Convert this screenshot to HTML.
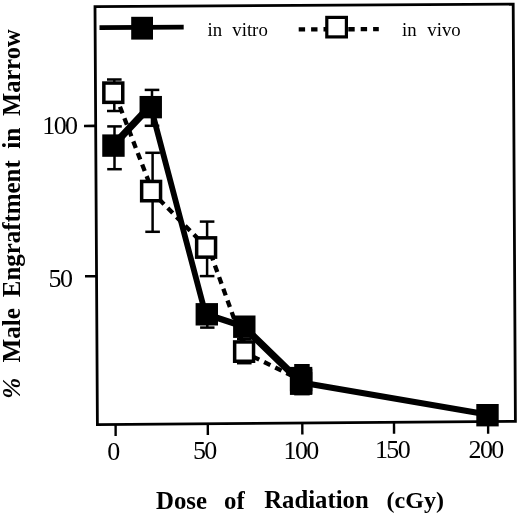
<!DOCTYPE html>
<html><head><meta charset="utf-8"><title>Chart</title>
<style>html,body{margin:0;padding:0;background:#fff}svg{display:block}text{font-family:"Liberation Serif",serif;fill:#000}</style></head>
<body>
<svg width="520" height="515" viewBox="0 0 520 515">
<rect width="520" height="515" fill="#fff"/>
<path d="M95.0 6.6 L513.2 4.2 L515.4 421.3 L97.4 424.7 Z" fill="none" stroke="#000" stroke-width="2.8" stroke-linejoin="miter"/>
<line x1="84" y1="126" x2="95" y2="125.95" stroke="#000" stroke-width="2.7" />
<line x1="85" y1="276.3" x2="96" y2="276.25" stroke="#000" stroke-width="2.6" />
<line x1="115.6" y1="424" x2="115.64999999999999" y2="436" stroke="#000" stroke-width="2.4" />
<line x1="207.8" y1="423" x2="207.85000000000002" y2="435" stroke="#000" stroke-width="2.4" />
<line x1="302.3" y1="422.6" x2="302.35" y2="434.6" stroke="#000" stroke-width="2.4" />
<line x1="394" y1="421.7" x2="394.05" y2="433.7" stroke="#000" stroke-width="2.4" />
<line x1="488.1" y1="421.8" x2="488.15000000000003" y2="433.8" stroke="#000" stroke-width="2.4" />
<line x1="114.3" y1="79.5" x2="114.3" y2="111.0" stroke="#000" stroke-width="2.5" />
<line x1="107.0" y1="79.5" x2="121.6" y2="79.5" stroke="#000" stroke-width="2.5" />
<line x1="107.0" y1="111.0" x2="121.6" y2="111.0" stroke="#000" stroke-width="2.5" />
<line x1="152.6" y1="152.8" x2="152.6" y2="231.8" stroke="#000" stroke-width="2.5" />
<line x1="145.29999999999998" y1="152.8" x2="159.9" y2="152.8" stroke="#000" stroke-width="2.5" />
<line x1="145.29999999999998" y1="231.8" x2="159.9" y2="231.8" stroke="#000" stroke-width="2.5" />
<line x1="207.1" y1="221.6" x2="207.1" y2="276.1" stroke="#000" stroke-width="2.5" />
<line x1="199.79999999999998" y1="221.6" x2="214.4" y2="221.6" stroke="#000" stroke-width="2.5" />
<line x1="199.79999999999998" y1="276.1" x2="214.4" y2="276.1" stroke="#000" stroke-width="2.5" />
<line x1="244.3" y1="339.2" x2="244.3" y2="363.2" stroke="#000" stroke-width="2.5" />
<line x1="237.0" y1="339.2" x2="251.60000000000002" y2="339.2" stroke="#000" stroke-width="2.5" />
<line x1="237.0" y1="363.2" x2="251.60000000000002" y2="363.2" stroke="#000" stroke-width="2.5" />
<line x1="114.5" y1="126.4" x2="114.5" y2="169.2" stroke="#000" stroke-width="2.5" />
<line x1="107.2" y1="126.4" x2="121.8" y2="126.4" stroke="#000" stroke-width="2.5" />
<line x1="107.2" y1="169.2" x2="121.8" y2="169.2" stroke="#000" stroke-width="2.5" />
<line x1="152.0" y1="89.9" x2="152.0" y2="125.8" stroke="#000" stroke-width="2.5" />
<line x1="144.7" y1="89.9" x2="159.3" y2="89.9" stroke="#000" stroke-width="2.5" />
<line x1="144.7" y1="125.8" x2="159.3" y2="125.8" stroke="#000" stroke-width="2.5" />
<line x1="207.3" y1="310" x2="207.3" y2="327.6" stroke="#000" stroke-width="2.5" />
<line x1="200.10000000000002" y1="310" x2="214.5" y2="310" stroke="#000" stroke-width="2.5" />
<line x1="200.10000000000002" y1="327.6" x2="214.5" y2="327.6" stroke="#000" stroke-width="2.5" />
<line x1="114.6" y1="92.7" x2="152.4" y2="191.1" stroke="#000" stroke-width="4.3" stroke-dasharray="7 5.4" stroke-dashoffset="-2.55"/>
<line x1="151.1" y1="191.1" x2="206.4" y2="247.3" stroke="#000" stroke-width="4.3" stroke-dasharray="7 5.4" stroke-dashoffset="1"/>
<line x1="208.4" y1="247.3" x2="245.8" y2="351.3" stroke="#000" stroke-width="4.3" stroke-dasharray="7 5.4" stroke-dashoffset="5.5"/>
<line x1="243.8" y1="352.1" x2="301.1" y2="380.2" stroke="#000" stroke-width="4.3" stroke-dasharray="7 5.4" stroke-dashoffset="2.2"/>
<line x1="113.8" y1="144.7" x2="150.9" y2="105.2" stroke="#000" stroke-width="7.2" stroke-linecap="round"/>
<line x1="150.9" y1="107.2" x2="205.5" y2="314" stroke="#000" stroke-width="5.8" stroke-linecap="round"/>
<line x1="205.5" y1="314" x2="244.3" y2="326.7" stroke="#000" stroke-width="6.4" stroke-linecap="round"/>
<line x1="244.3" y1="327.3" x2="301.1" y2="382.5" stroke="#000" stroke-width="7.3" stroke-linecap="round"/>
<line x1="301.1" y1="382.5" x2="487.5" y2="414.5" stroke="#000" stroke-width="5.9" stroke-linecap="round"/>
<rect x="103.85" y="83.05" width="18.9" height="19.3" fill="#fff" stroke="#000" stroke-width="3.5"/>
<rect x="141.65" y="181.45" width="18.9" height="19.3" fill="#fff" stroke="#000" stroke-width="3.5"/>
<rect x="196.65" y="237.85" width="18.9" height="19.3" fill="#fff" stroke="#000" stroke-width="3.5"/>
<rect x="234.65" y="341.95000000000005" width="18.9" height="19.3" fill="#fff" stroke="#000" stroke-width="3.5"/>
<rect x="291.65000000000003" y="373.85" width="18.9" height="19.3" fill="#fff" stroke="#000" stroke-width="3.5"/>
<rect x="102.25" y="134.4" width="22.4" height="22.4" fill="#000"/>
<rect x="139.55" y="95.95" width="22.4" height="22.4" fill="#000"/>
<rect x="195.60000000000002" y="303.1" width="22.4" height="22.4" fill="#000"/>
<rect x="233.10000000000002" y="315.5" width="22.4" height="22.4" fill="#000"/>
<rect x="289.90000000000003" y="368.8" width="22.4" height="22.4" fill="#000"/>
<rect x="476.3" y="404.0" width="22.4" height="22.4" fill="#000"/>
<rect x="290" y="366.9" width="22.3" height="27.2" fill="#000"/>
<rect x="294.2" y="364" width="15.5" height="31.4" fill="#000"/>
<line x1="99.5" y1="27.6" x2="183.7" y2="27.1" stroke="#000" stroke-width="4.8" />
<rect x="131.2" y="16.8" width="21.8" height="22.8" fill="#000"/>
<line x1="298.7" y1="29.4" x2="378.8" y2="29.1" stroke="#000" stroke-width="4.4" stroke-dasharray="6.4 6"/>
<rect x="326.8" y="17.4" width="19.6" height="19.5" fill="#fff" stroke="#000" stroke-width="3.2"/>
<text x="207.5" y="35.9" font-size="18.8" text-anchor="start" >in</text>
<text x="232.3" y="35.8" font-size="18.8" text-anchor="start" >vitro</text>
<text x="402" y="35.7" font-size="18.8" text-anchor="start" >in</text>
<text x="427.3" y="35.6" font-size="18.8" text-anchor="start" >vivo</text>
<text x="76.5" y="134.1" font-size="26" text-anchor="end" letter-spacing="-1.6">100</text>
<text x="71.4" y="287.1" font-size="26" text-anchor="end" letter-spacing="-1.6">50</text>
<text x="112.9" y="459.5" font-size="26" text-anchor="middle" letter-spacing="-1.6">0</text>
<text x="204.3" y="459.2" font-size="26" text-anchor="middle" letter-spacing="-1.6">50</text>
<text x="300.6" y="458.7" font-size="26" text-anchor="middle" letter-spacing="-1.6">100</text>
<text x="392.0" y="458.3" font-size="26" text-anchor="middle" letter-spacing="-1.6">150</text>
<text x="485.6" y="457.8" font-size="26" text-anchor="middle" letter-spacing="-1.6">200</text>
<text x="156.0" y="508.8" font-size="24.8" font-weight="bold" text-anchor="start" >Dose</text>
<text x="224.1" y="508.5" font-size="24.8" font-weight="bold" text-anchor="start" >of</text>
<text x="264.2" y="508.2" font-size="24.75" font-weight="bold" text-anchor="start" >Radiation</text>
<text x="386.6" y="507.7" font-size="24.0" font-weight="bold" text-anchor="start" >(cGy)</text>
<text transform="translate(19.9 398.8) rotate(-90)" font-size="25.2" font-weight="bold" font-style="italic">%</text>
<text transform="translate(19.9 362.6) rotate(-90)" font-size="25.2" font-weight="bold">Male</text>
<text transform="translate(19.9 297.2) rotate(-90)" font-size="24.9" font-weight="bold">Engraftment</text>
<text transform="translate(19.9 148.7) rotate(-90)" font-size="25.3" font-weight="bold">in</text>
<text transform="translate(19.9 115.9) rotate(-90)" font-size="24.5" font-weight="bold">Marrow</text>
</svg>
</body></html>
